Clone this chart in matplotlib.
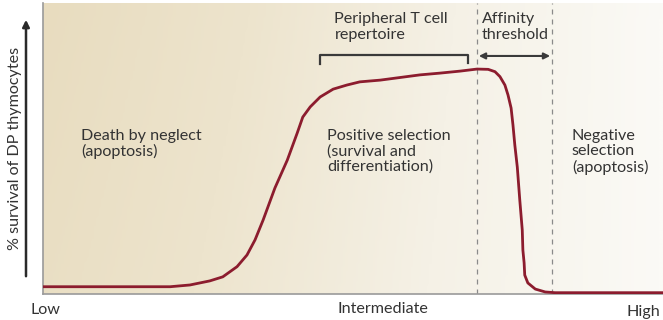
import numpy as np
import matplotlib
matplotlib.use("Agg")
import matplotlib.pyplot as plt
from matplotlib.colors import LinearSegmentedColormap

plt.rcParams['font.family'] = ['Lato', 'DejaVu Sans']

# Affinity (0-100, arbitrary) vs % survival (0-100, arbitrary)
affinity = [0, 14.0, 20.5, 23.7, 26.9, 29.0, 31.3, 32.9, 34.2, 35.5, 37.4, 39.4,
            41.0, 41.9, 43.1, 44.7, 46.8, 49.0, 51.1, 54.4, 57.6, 60.8, 64.0,
            67.3, 70.0, 71.8, 72.9, 73.7, 74.5, 75.0, 75.5, 75.8, 76.1, 76.5,
            76.9, 77.3, 77.4, 77.6, 77.7, 78.2, 79.4, 81.0, 82.6, 100]
survival = [2.5, 2.5, 2.5, 3.1, 4.5, 5.9, 9.4, 13.4, 18.6, 25.4, 36.4, 46.0,
            55.3, 60.8, 64.3, 67.7, 70.4, 71.8, 72.9, 73.5, 74.4, 75.3, 75.9,
            76.6, 77.3, 77.2, 76.4, 74.7, 71.8, 68.4, 63.9, 58.1, 51.2, 43.6,
            32.3, 22.0, 15.1, 10.7, 6.5, 3.8, 1.7, 0.7, 0.45, 0.45]

threshold_low = 70.0
threshold_high = 82.1
repertoire_span = [44.7, 68.5]
x_labels = ["Low", "Intermediate", "High"]

curve_color = "#8c1c2e"
ink = "#3a3a3a"
text_color = "#333333"

fig = plt.figure(figsize=(6.63, 3.2), dpi=100)
ax = fig.add_axes([43/663, 26/320, 620/663, 291/320])
ax.set_xlim(0, 100)
ax.set_ylim(0, 100)

# background gradient
cmap = LinearSegmentedColormap.from_list("bg", ["#e8dcbf", "#ede4cd", "#f5f1e6", "#fbfaf6"])
grad = np.tile(np.linspace(0, 1, 256), (64, 1))
vert = np.linspace(0.0, 0.12, 64)[::-1][:, None]
grad = np.clip(grad + vert * (1 - grad), 0, 1)
ax.imshow(grad, extent=[0, 100, 0, 100], aspect='auto', cmap=cmap, origin='lower', zorder=0)

ax.plot(affinity, survival, color=curve_color, lw=2.0, solid_joinstyle='round',
        solid_capstyle='butt', antialiased=True, zorder=3)

for xv in (threshold_low, threshold_high):
    ax.axvline(xv, color="#8a8a8a", lw=0.9, ls=(0, (4, 4)), zorder=2)

# bracket
bx0, bx1 = repertoire_span
ax.plot([bx0, bx0, bx1, bx1], [79.0, 82.1, 82.1, 79.3], color=ink, lw=1.6, zorder=3)
# double arrow
ax.annotate("", xy=(threshold_high - 0.3, 81.8), xytext=(threshold_low + 0.3, 81.8),
            arrowprops=dict(arrowstyle="<|-|>", color=ink, lw=1.5,
                            mutation_scale=9, shrinkA=0, shrinkB=0), zorder=3)

fs = 11.6
ax.text(47.0, 96.8, "Peripheral T cell\nrepertoire", fontsize=fs, color=text_color,
        va='top', ha='left', linespacing=1.12)
ax.text(70.8, 96.8, "Affinity\nthreshold", fontsize=fs, color=text_color,
        va='top', ha='left', linespacing=1.12)
ax.text(6.2, 56.8, "Death by neglect\n(apoptosis)", fontsize=fs, color=text_color,
        va='top', ha='left', linespacing=1.12)
ax.text(45.8, 56.8, "Positive selection\n(survival and\ndifferentiation)", fontsize=fs,
        color=text_color, va='top', ha='left', linespacing=1.12)
ax.text(85.3, 56.8, "Negative\nselection\n(apoptosis)", fontsize=fs, color=text_color,
        va='top', ha='left', linespacing=1.12)

ax.set_xticks([])
ax.set_yticks([])
for s in ("top", "right"):
    ax.spines[s].set_visible(False)
for s in ("left", "bottom"):
    ax.spines[s].set_color("#9a9a9a")
    ax.spines[s].set_linewidth(1.2)

# x-axis category labels
fig.text(30/663, 1 - 310/320, x_labels[0], fontsize=fs, color=text_color, ha='left', va='center')
fig.text(383/663, 1 - 309/320, x_labels[1], fontsize=fs, color=text_color, ha='center', va='center')
fig.text(660/663, 1 - 312/320, x_labels[2], fontsize=fs, color=text_color, ha='right', va='center')

# y-axis arrow and label
fig.add_artist(matplotlib.patches.FancyArrowPatch(
    (26/663, 1 - 279/320), (26/663, 1 - 17/320), transform=fig.transFigure,
    arrowstyle="-|>", mutation_scale=10, color="#2a2a2a", lw=1.8))
fig.text(15/663, 1 - 148/320, "% survival of DP thymocytes", fontsize=fs, color=text_color,
         rotation=90, ha='center', va='center')

fig.savefig("out.png", dpi=100)
